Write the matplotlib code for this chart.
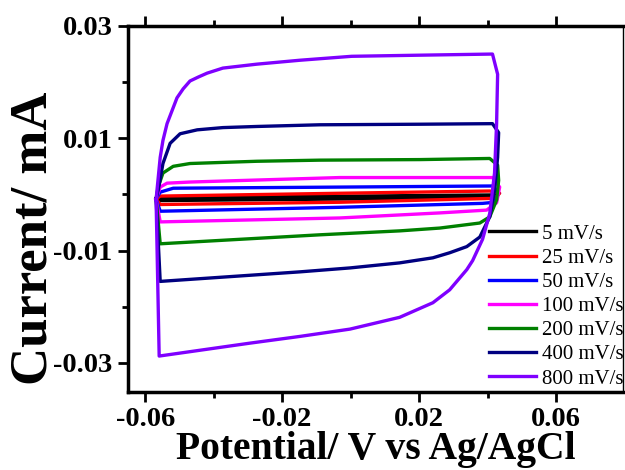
import numpy as np
import matplotlib
matplotlib.use('Agg')
import matplotlib.pyplot as plt

plt.rcParams['font.family'] = ['Liberation Serif', 'DejaVu Serif']

labels = ['5 mV/s', '25 mV/s', '50 mV/s', '100 mV/s', '200 mV/s', '400 mV/s', '800 mV/s']
colors = ['black', 'red', 'blue', 'magenta', 'green', 'navy', '#7f00ff']

# potential (V) and current (mA), one closed loop per scan rate
pot_5 = [-0.0568, -0.0556, 0.0410, 0.0425, 0.0410, -0.0556, -0.0568]
cur_5 = [-0.0008, -0.0006, -0.0001, -0.0003, -0.0006, -0.0011, -0.0008]

pot_25 = [-0.0568, -0.0556, -0.0032, 0.0406, 0.0435, 0.0420, -0.0032, -0.0556, -0.0568]
cur_25 = [-0.0008, -0.0003, 0.0002, 0.0006, 0.0002, -0.0007, -0.0014, -0.0018, -0.0008]

pot_50 = [-0.0568, -0.0556, -0.0518, -0.0032, 0.0414, 0.0432, 0.0420, 0.0385, -0.0032, -0.0556, -0.0568]
cur_50 = [-0.0008, 0.0004, 0.0011, 0.0013, 0.0015, 0.0002, -0.0014, -0.0016, -0.0023, -0.0030, -0.0008]

pot_100 = [-0.0568, -0.0556, -0.0536, -0.0469, -0.0032, 0.0414, 0.0435, 0.0426, 0.0397, 0.0260, -0.0032, -0.0556, -0.0568]
cur_100 = [-0.0008, 0.0013, 0.0020, 0.0022, 0.0030, 0.0030, 0.0013, -0.0015, -0.0028, -0.0033, -0.0042, -0.0049, -0.0008]

pot_200 = [-0.0568, -0.0562, -0.0548, -0.0518, -0.0469, -0.0373, -0.0274, -0.0090, 0.0202, 0.0406,
           0.0429, 0.0432, 0.0426, 0.0406, 0.0377, 0.0260, 0.0143, -0.0090, -0.0556, -0.0568]
cur_200 = [-0.0008, 0.0013, 0.0038, 0.0050, 0.0055, 0.0057, 0.0059, 0.0061, 0.0062, 0.0064,
           0.0052, 0.0025, -0.0010, -0.0040, -0.0051, -0.0060, -0.0065, -0.0072, -0.0088, -0.0008]

pot_400 = [-0.0568, -0.0562, -0.0548, -0.0527, -0.0498, -0.0448, -0.0373, -0.0274, -0.0090, 0.0202, 0.0414,
           0.0432, 0.0429, 0.0420, 0.0406, 0.0377, 0.0339, 0.0289, 0.0240, 0.0143, -0.0002, -0.0148, -0.0556, -0.0568]
cur_400 = [-0.0008, 0.0007, 0.0055, 0.0091, 0.0108, 0.0115, 0.0119, 0.0121, 0.0124, 0.0125, 0.0126,
           0.0110, 0.0066, 0.0007, -0.0040, -0.0076, -0.0093, -0.0104, -0.0113, -0.0122, -0.0131, -0.0138, -0.0155, -0.0008]

pot_800 = [-0.0568, -0.0556, -0.0548, -0.0536, -0.0507, -0.0489, -0.0469, -0.0445, -0.0419, -0.0373, -0.0274,
           -0.0148, 0.0003, 0.0202, 0.0414,
           0.0429, 0.0426, 0.0420, 0.0406, 0.0385, 0.0356, 0.0339, 0.0289, 0.0240, 0.0143, -0.0002, -0.0148, -0.0294,
           -0.0559, -0.0568]
cur_800 = [-0.0009, 0.0066, 0.0096, 0.0126, 0.0172, 0.0188, 0.0202, 0.0209, 0.0216, 0.0225, 0.0232,
           0.0239, 0.0246, 0.0248, 0.0250,
           0.0214, 0.0126, 0.0038, -0.0034, -0.0080, -0.0118, -0.0134, -0.0170, -0.0193, -0.0219, -0.0240, -0.0253, -0.0265,
           -0.0288, -0.0009]

pots = [pot_5, pot_25, pot_50, pot_100, pot_200, pot_400, pot_800]
curs = [cur_5, cur_25, cur_50, cur_100, cur_200, cur_400, cur_800]

fig = plt.figure(figsize=(6.25, 4.7), dpi=100)
ax = fig.add_axes([0.2048, 0.166, 0.792, 0.7787])

for p, c, col, lab in zip(pots, curs, colors, labels):
    ax.plot(p, c, color=col, lw=2.4, label=lab, solid_joinstyle='round')

ax.set_xlim(-0.065, 0.0795)
ax.set_ylim(-0.0352, 0.03)
ax.set_xticks([-0.06, -0.02, 0.02, 0.06])
ax.set_xticklabels(['-0.06', '-0.02', '0.02', '0.06'])
ax.set_yticks([-0.03, -0.01, 0.01, 0.03])
ax.set_yticklabels(['-0.03', '-0.01', '0.01', '0.03'])
ax.set_xticks([-0.04, 0.0, 0.04], minor=True)
ax.set_yticks([-0.02, 0.0, 0.02], minor=True)

ax.tick_params(which='major', direction='out', length=7, width=2, labelsize=20.5, pad=4)
ax.tick_params(which='minor', direction='out', length=4, width=2)
ax.tick_params(axis='x', which='both', top=True)
for t in ax.get_xticklabels() + ax.get_yticklabels():
    t.set_fontweight('bold')

for s in ['left', 'bottom', 'top']:
    ax.spines[s].set_linewidth(2.5)
ax.spines['right'].set_linewidth(1)

ax.set_xlabel('Potential/ V vs Ag/AgCl', fontsize=28.5, fontweight='bold', labelpad=-1)
ax.set_ylabel('Current/ mA', fontsize=38, fontweight='bold')
ax.yaxis.set_label_coords(-0.142, 0.42)

leg = ax.legend(loc='lower right', frameon=False, fontsize=15, handlelength=2.25,
                handletextpad=0.25, labelspacing=0.22, borderpad=0.0, borderaxespad=0.3,
                bbox_to_anchor=(1.013, -0.008))

fig.savefig('out.png', dpi=100)
